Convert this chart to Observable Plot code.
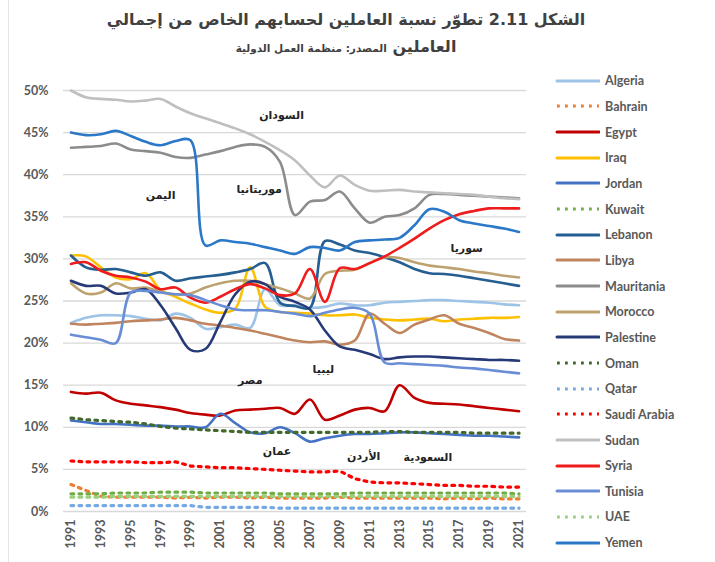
<!DOCTYPE html>
<html>
<head>
<meta charset="utf-8">
<script src="https://cdn.jsdelivr.net/npm/d3@7"></script>
<script src="https://cdn.jsdelivr.net/npm/@observablehq/plot@0.6"></script>
<style>
  html, body { margin: 0; padding: 0; background: #fff; }
  #wrap { position: relative; width: 715px; height: 562px; overflow: hidden; }
  #frame { position: absolute; left: 8px; top: 0; width: 1px; height: 562px; background: #e6e6e6; }
  #title { position: absolute; left: 0; top: 6px; width: 692px; text-align: center; direction: rtl;
           font-family: "DejaVu Sans", sans-serif; color: #404040; }
  #title .l1 { font-size: 16px; font-weight: bold; line-height: 28px; }
  #title .l2 { font-size: 16px; font-weight: bold; line-height: 26px; }
  #title .l2 span { font-size: 10.5px; font-weight: bold; }
  #chart { position: absolute; left: 0; top: 72px; }
  #legend { position: absolute; left: 555px; top: 68px; font-family: Lato, sans-serif; font-weight: bold;
            font-size: 12.5px; color: #595959; }
  #legend .row { height: 25.67px; display: flex; align-items: center; }
  #legend svg { display: block; margin-right: 5px; }
</style>
</head>
<body>
<div id="wrap">
  <div id="frame"></div>
  <div id="title">
    <div class="l1">الشكل 2.11 تطوّر نسبة العاملين لحسابهم الخاص من إجمالي</div>
    <div class="l2">العاملين <span>المصدر: منظمة العمل الدولية</span></div>
  </div>
  <div id="chart"></div>
  <div id="legend"></div>
</div>
<script>
const years = d3.range(1991, 2022);
const countries = ["Algeria","Bahrain","Egypt","Iraq","Jordan","Kuwait","Lebanon","Libya","Mauritania","Morocco","Palestine","Oman","Qatar","Saudi Arabia","Sudan","Syria","Tunisia","UAE","Yemen"];
const dotted = ["Bahrain","Kuwait","Oman","Qatar","Saudi Arabia","UAE"];
const palette = ["#9DC3E6","#ED7D31","#C00000","#FFC000","#4472C4","#70AD47","#255E91","#C0845F","#8C8C8C","#BDA270","#263A78","#43682B","#75A9E0","#FF0000","#BFBFBF","#EE1C1C","#6A8ED6","#9BCF7E","#2B78C8"];

const algeria   = [22.4,23.0,23.3,23.3,23.2,22.9,22.7,23.5,23.0,21.7,21.9,22.2,21.8,26.4,24.5,24.5,24.2,24.3,24.7,24.5,24.5,24.8,24.9,25.0,25.1,25.1,25.0,24.9,24.8,24.6,24.5];
const bahrain   = [3.2,2.5,1.8,1.7,1.7,1.7,1.7,1.6,1.7,1.6,1.7,1.7,1.6,1.7,1.6,1.6,1.6,1.6,1.7,1.6,1.6,1.6,1.6,1.6,1.6,1.5,1.6,1.5,1.6,1.5,1.5];
const egypt     = [14.2,14.0,14.1,13.2,12.8,12.6,12.4,12.1,11.7,11.5,11.4,12.0,12.1,12.2,12.3,11.6,13.3,10.9,11.4,12.1,12.3,11.9,15.0,13.5,12.9,12.8,12.7,12.5,12.3,12.1,11.9];
const iraq      = [30.4,30.3,29.0,27.8,27.6,28.3,26.3,25.5,24.7,24.0,23.6,24.1,29.0,24.3,23.7,23.6,23.5,23.3,23.3,23.4,23.0,22.8,22.7,22.8,22.9,22.6,22.8,22.9,23.0,23.0,23.1];
const jordan    = [10.8,10.6,10.4,10.4,10.3,10.2,10.2,10.1,10.1,10.0,11.6,10.5,9.4,9.3,10.0,9.3,8.3,8.7,9.0,9.2,9.2,9.3,9.4,9.4,9.3,9.2,9.1,9.0,9.0,8.9,8.8];
const kuwait    = [2.1,2.1,2.1,2.2,2.2,2.2,2.3,2.3,2.3,2.2,2.2,2.2,2.2,2.2,2.1,2.1,2.1,2.1,2.1,2.2,2.2,2.2,2.2,2.2,2.2,2.2,2.2,2.2,2.2,2.2,2.1];
const lebanon   = [30.4,29.0,28.7,28.8,28.4,28.0,28.4,27.4,27.7,27.9,28.1,28.4,28.8,29.5,24.8,24.4,24.2,32.1,31.7,31.0,30.7,30.2,29.6,28.8,28.3,28.2,28.0,27.7,27.4,27.1,26.8];
const libya     = [22.3,22.2,22.3,22.4,22.6,22.7,22.8,23.0,22.7,22.3,22.1,21.8,21.5,21.1,20.7,20.3,20.1,20.2,19.8,20.3,23.5,22.3,21.2,22.2,22.8,23.3,22.3,21.8,21.2,20.5,20.3];
const mauritania= [43.2,43.3,43.4,43.7,43.0,42.8,42.6,42.1,42.0,42.4,42.8,43.3,43.6,43.3,41.5,35.2,36.8,37.0,38.0,36.0,34.3,35.0,35.2,36.0,37.6,37.7,37.6,37.5,37.4,37.3,37.2];
const morocco   = [27.1,25.9,26.0,27.1,26.5,26.6,26.1,25.8,25.9,26.6,27.1,27.4,27.4,27.0,26.5,25.9,25.3,28.2,28.6,28.7,29.5,30.2,30.1,29.6,29.2,29.0,28.8,28.5,28.3,28.0,27.8];
const palestine = [27.4,26.8,26.8,25.9,26.0,26.4,24.5,21.8,19.2,19.3,22.5,25.8,27.3,27.0,25.5,24.9,24.0,21.5,19.6,19.2,18.7,18.1,18.3,18.4,18.4,18.3,18.2,18.1,18.0,18.0,17.9];
const oman      = [11.1,10.9,10.8,10.7,10.6,10.4,10.1,9.9,9.8,9.7,9.6,9.5,9.4,9.4,9.4,9.4,9.4,9.4,9.4,9.4,9.4,9.5,9.5,9.4,9.4,9.4,9.4,9.3,9.3,9.3,9.3];
const qatar     = [0.7,0.7,0.7,0.7,0.7,0.7,0.7,0.7,0.7,0.5,0.5,0.5,0.5,0.5,0.4,0.4,0.4,0.4,0.4,0.4,0.4,0.4,0.4,0.4,0.4,0.4,0.4,0.4,0.4,0.4,0.4];
const saudi     = [6.0,5.9,5.9,5.9,5.9,5.8,5.8,5.9,5.4,5.3,5.2,5.2,5.1,5.0,4.9,4.8,4.7,4.7,4.8,3.9,3.5,3.4,3.4,3.3,3.2,3.1,3.1,3.0,3.0,2.9,2.9];
const sudan     = [50.0,49.2,49.0,48.9,48.7,48.8,49.0,48.1,47.3,46.7,46.1,45.5,44.8,43.9,42.9,41.7,39.9,38.5,39.9,38.8,38.1,38.1,38.2,38.0,37.9,37.8,37.7,37.6,37.4,37.2,37.1];
const syria     = [29.4,29.6,28.6,28.0,27.8,27.3,26.4,26.6,25.4,24.8,25.5,26.4,27.0,26.5,25.7,25.9,28.8,24.9,28.9,28.8,29.5,30.3,31.3,32.4,33.6,34.6,35.3,35.7,36.0,36.0,36.0];
const tunisia   = [21.0,20.7,20.4,20.0,26.0,26.2,26.0,25.8,25.7,25.1,24.5,24.0,23.9,23.9,23.7,23.5,23.2,23.6,24.0,24.2,23.5,17.7,17.6,17.5,17.4,17.3,17.1,17.0,16.8,16.6,16.4];
const uae       = [1.7,1.7,1.7,1.8,1.8,1.8,1.8,1.8,1.8,1.8,1.8,1.8,1.8,1.8,1.8,1.8,1.8,1.8,1.8,1.8,1.8,1.8,1.8,1.8,1.8,1.8,1.8,1.8,1.8,1.8,1.8];
const yemen     = [45.0,44.7,44.8,45.2,44.6,43.9,43.5,44.0,44.1,31.6,32.2,32.0,31.8,31.4,31.0,30.6,31.4,31.3,31.0,32.0,32.2,32.3,32.5,34.0,35.9,35.6,34.6,34.2,33.9,33.6,33.2];

const series = [algeria,bahrain,egypt,iraq,jordan,kuwait,lebanon,libya,mauritania,morocco,palestine,oman,qatar,saudi,sudan,syria,tunisia,uae,yemen];

const yTicks = [0,5,10,15,20,25,30,35,40,45,50];
const xTicks = [1991,1993,1995,1997,1999,2001,2003,2005,2007,2009,2011,2013,2015,2017,2019,2021];

const labelText  = ["السودان","اليمن","موريتانيا","سوريا","مصر","ليبيا","عمان","الأردن","السعودية"];
const labelYear  = [2005.1,1997.0,2003.6,2017.5,2003.0,2007.9,2004.8,2010.6,2014.9];
const labelValue = [47.0,37.5,38.2,31.2,15.6,16.9,7.1,6.5,6.4];

const table = [];
countries.forEach((c, i) => series[i].forEach((v, j) => table.push({country: c, year: years[j], value: v})));
const labels = labelText.map((t, i) => ({text: t, year: labelYear[i], value: labelValue[i]}));

const DASH = "2.8 5.2";
const lineMarks = countries.map((c, i) => {
  const isDot = dotted.includes(c);
  return Plot.line(table.filter(d => d.country === c), {
    x: "year", y: "value", stroke: palette[i],
    strokeWidth: isDot ? 3.2 : 2.6,
    strokeDasharray: isDot ? DASH : null,
    curve: isDot ? "linear" : "catmull-rom"
  });
});

const chart = Plot.plot({
  width: 546, height: 490,
  marginLeft: 63, marginRight: 20, marginTop: 18, marginBottom: 51,
  style: {fontFamily: "Lato, sans-serif", fontSize: "12.5px", fontWeight: "bold", color: "#595959", background: "transparent"},
  x: {domain: [1990.5, 2021.5]},
  y: {domain: [0, 50]},
  marks: [
    Plot.gridY(yTicks, {stroke: "#d9d9d9", strokeOpacity: 1, strokeWidth: 1.3}),
    Plot.axisY(yTicks, {tickSize: 0, tickPadding: 15, tickFormat: d => d + "%", label: null}),
    Plot.axisX(xTicks, {tickSize: 0, tickPadding: 8, tickRotate: -90, tickFormat: d => String(d), label: null}),
    ...lineMarks,
    Plot.text(labels, {x: "year", y: "value", text: "text", fill: "#222", fontSize: 11, fontWeight: "bold", fontFamily: "DejaVu Sans"})
  ]
});
document.getElementById("chart").appendChild(chart);

const legend = document.getElementById("legend");
countries.forEach((c, i) => {
  const row = document.createElement("div");
  row.className = "row";
  const isDot = dotted.includes(c);
  row.innerHTML = `<svg width="45" height="6"><line x1="2" y1="3" x2="44" y2="3" stroke="${palette[i]}" stroke-width="3" ${isDot ? `stroke-dasharray="${DASH}"` : 'stroke-linecap="round"'}/></svg><span>${c}</span>`;
  legend.appendChild(row);
});
</script>
</body>
</html>
